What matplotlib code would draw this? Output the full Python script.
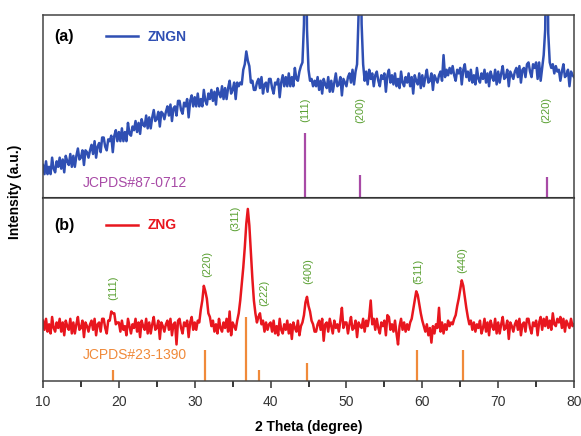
import numpy as np
import matplotlib
matplotlib.use("Agg")
import matplotlib.pyplot as plt
from matplotlib.ticker import MultipleLocator

plt.rcParams['font.family'] = ['Liberation Sans', 'DejaVu Sans']

# 2-theta sampling grid (0.2 degree steps, 10 -> 80)
two_theta = np.round(np.arange(10.0, 80.001, 0.2), 1)

# ZNGN pattern, relative intensity (panel height = 100)
zngn = [
    18, 13, 20, 13, 17, 13, 22, 16, 14, 20,   # 10
    17, 22, 16, 21, 14, 23, 20, 18, 24, 17,   # 12
    23, 17, 23, 27, 21, 22, 26, 18, 26, 25,   # 14
    22, 26, 29, 24, 31, 22, 28, 30, 25, 33,   # 16
    33, 28, 26, 32, 31, 34, 25, 34, 37, 31,   # 18
    36, 31, 38, 31, 36, 31, 41, 35, 34, 39,   # 20
    37, 42, 36, 41, 35, 43, 40, 39, 45, 38,   # 22
    44, 38, 44, 48, 42, 43, 47, 39, 47, 46,   # 24
    43, 47, 50, 45, 51, 42, 49, 50, 45, 53,   # 26
    53, 48, 46, 52, 50, 54, 44, 53, 56, 50,   # 28
    55, 50, 57, 50, 54, 50, 59, 53, 51, 57,   # 30
    54, 59, 53, 58, 51, 60, 57, 55, 61, 54,   # 32
    60, 54, 60, 64, 57, 59, 63, 54, 63, 61,   # 34
    63, 62, 70, 73, 80, 75, 72, 63, 64, 59,   # 36
    59, 63, 65, 60, 66, 57, 62, 63, 58, 65,   # 38
    65, 60, 57, 63, 62, 65, 55, 63, 67, 61,   # 40
    66, 61, 68, 61, 66, 61, 71, 65, 64, 69,   # 42
    72, 74, 95, 170, 92, 70, 64, 65, 61, 64,  # 44
    61, 66, 59, 64, 57, 65, 62, 60, 66, 58,   # 46
    64, 58, 63, 68, 61, 62, 66, 56, 65, 63,   # 48
    61, 66, 68, 63, 70, 62, 69, 73, 100, 170, # 50
    95, 73, 64, 69, 62, 70, 65, 68, 61, 67,   # 52
    69, 64, 61, 67, 65, 68, 58, 67, 70, 63,   # 54
    67, 62, 68, 61, 65, 60, 69, 63, 61, 66,   # 56
    63, 68, 61, 66, 57, 67, 64, 62, 68, 60,   # 58
    67, 61, 66, 70, 63, 64, 68, 59, 67, 65,   # 60
    63, 67, 69, 64, 78, 66, 70, 67, 71, 68,   # 62
    72, 67, 64, 70, 68, 71, 62, 70, 73, 66,   # 64
    69, 64, 70, 63, 67, 62, 71, 65, 63, 68,   # 66
    65, 70, 63, 68, 61, 69, 66, 64, 70, 62,   # 68
    69, 63, 68, 72, 65, 66, 70, 61, 69, 67,   # 70
    65, 69, 71, 66, 72, 63, 70, 71, 66, 73,   # 72
    74, 69, 66, 73, 71, 74, 65, 74, 64, 71,   # 74
    78, 92, 170, 90, 74, 71, 73, 68, 72, 69,  # 76
    70, 64, 69, 73, 66, 67, 70, 61, 69, 67,   # 78
    66,                                       # 80
]

# ZNG pattern
zng = [
    33, 28, 34, 27, 31, 26, 35, 29, 27, 32,   # 10
    29, 34, 27, 32, 25, 33, 30, 28, 34, 26,   # 12
    32, 26, 31, 35, 28, 29, 33, 24, 32, 30,   # 14
    27, 31, 33, 28, 34, 25, 31, 32, 27, 34,   # 16
    34, 29, 26, 33, 33, 38, 37, 37, 31, 32,   # 18
    32, 27, 33, 28, 30, 25, 34, 30, 26, 31,   # 20
    29, 34, 27, 32, 24, 33, 30, 28, 34, 26,   # 22
    32, 26, 31, 35, 28, 29, 33, 23, 32, 30,   # 24
    27, 31, 33, 28, 34, 25, 31, 32, 20, 33,   # 26
    34, 29, 26, 32, 30, 33, 24, 32, 35, 28,   # 28
    32, 28, 33, 32, 39, 44, 52, 49, 45, 37,   # 30
    35, 30, 33, 27, 31, 26, 34, 29, 27, 32,   # 32
    29, 34, 27, 38, 25, 32, 30, 28, 33, 37,   # 34
    44, 53, 62, 73, 86, 94, 85, 70, 56, 44,   # 36
    37, 32, 35, 37, 31, 33, 27, 32, 28, 31,   # 38
    32, 27, 33, 26, 30, 25, 34, 28, 26, 31,   # 40
    28, 33, 26, 31, 23, 32, 29, 27, 33, 25,   # 42
    30, 32, 36, 43, 46, 41, 38, 33, 31, 27,   # 44
    27, 31, 33, 28, 34, 22, 31, 32, 27, 34,   # 46
    30, 26, 33, 29, 31, 27, 33, 40, 29, 32,   # 48
    32, 26, 31, 35, 28, 29, 33, 24, 32, 30,   # 50
    29, 34, 27, 33, 30, 35, 44, 31, 34, 28,   # 52
    34, 29, 26, 32, 30, 33, 25, 36, 35, 28,   # 54
    31, 27, 33, 26, 20, 30, 34, 28, 32, 27,   # 56
    31, 28, 32, 34, 39, 44, 49, 47, 42, 37,   # 58
    33, 30, 27, 31, 25, 29, 21, 30, 26, 31,   # 60
    29, 40, 27, 32, 26, 31, 28, 33, 30, 32,   # 62
    31, 34, 36, 41, 45, 50, 55, 52, 46, 40,   # 64
    35, 31, 33, 28, 32, 27, 31, 29, 33, 26,   # 66
    29, 34, 27, 32, 25, 33, 30, 28, 34, 26,   # 68
    32, 26, 31, 35, 28, 29, 33, 23, 32, 30,   # 70
    27, 31, 33, 28, 34, 25, 31, 32, 27, 34,   # 72
    34, 29, 26, 32, 30, 33, 25, 32, 35, 28,   # 74
    34, 30, 35, 29, 33, 28, 37, 31, 30, 34,   # 76
    32, 35, 29, 34, 27, 33, 31, 29, 34, 30,   # 78
    31,                                       # 80
]

# reference cards (stick positions and relative heights)
ni_pos = [44.6, 51.8, 76.4]
ni_height = [35.5, 12.6, 11.4]
ni_hkl = ['(111)', '(200)', '(220)']
ni_label_y = [48, 48, 48]

spinel_pos = [19.2, 31.3, 36.8, 38.5, 44.8, 59.3, 65.3]
spinel_height = [6, 17, 35, 6, 10, 17, 17]
spinel_hkl = ['(111)', '(220)', '(311)', '(222)', '(400)', '(511)', '(440)']
spinel_label_x = [19.2, 31.6, 35.3, 39.2, 44.9, 59.4, 65.3]
spinel_label_y = [51, 64, 89, 48, 60, 60, 66]

blue = '#2f4fb3'
red = '#e8161e'
purple = '#a84aa6'
orange = '#f08a3a'
green = '#5aa032'

fig = plt.figure(figsize=(5.81, 4.36), dpi=100)
ax_a = fig.add_axes([0.074, 0.546, 0.914, 0.420])
ax_b = fig.add_axes([0.074, 0.126, 0.914, 0.420], sharex=ax_a)

# panel (a)
ax_a.plot(two_theta, zngn, color=blue, lw=1.8, label='ZNGN')
ax_a.vlines(ni_pos, 0, ni_height, color=purple, lw=1.6)
for xp, lab, yl in zip(ni_pos, ni_hkl, ni_label_y):
    ax_a.text(xp, yl, lab, rotation=90, color=green, fontsize=8,
              ha='center', va='center')
ax_a.text(11.5, 88, '(a)', fontsize=11.5, fontweight='bold', va='center')
ax_a.text(15.3, 8, 'JCPDS#87-0712', color=purple, fontsize=10, va='center')
ax_a.legend(loc='center left', bbox_to_anchor=(0.105, 0.88), frameon=False,
            handlelength=2.3, handletextpad=0.7, borderpad=0,
            labelcolor='linecolor', prop={'weight': 'bold', 'size': 10})

# panel (b)
ax_b.plot(two_theta, zng, color=red, lw=1.8, label='ZNG')
ax_b.vlines(spinel_pos, 0, spinel_height, color=orange, lw=1.6)
for xp, lab, yl in zip(spinel_label_x, spinel_hkl, spinel_label_y):
    ax_b.text(xp, yl, lab, rotation=90, color=green, fontsize=8,
              ha='center', va='center')
ax_b.text(11.5, 85, '(b)', fontsize=11.5, fontweight='bold', va='center')
ax_b.text(15.3, 14, 'JCPDS#23-1390', color=orange, fontsize=10, va='center')
ax_b.legend(loc='center left', bbox_to_anchor=(0.105, 0.85), frameon=False,
            handlelength=2.3, handletextpad=0.7, borderpad=0,
            labelcolor='linecolor', prop={'weight': 'bold', 'size': 10})

for ax in (ax_a, ax_b):
    ax.set_ylim(0, 100)
    ax.set_yticks([])
    for s in ax.spines.values():
        s.set_color('#444444')
        s.set_linewidth(1.1)

ax_a.set_xlim(10, 80)
ax_a.tick_params(axis='x', which='both', bottom=False, labelbottom=False)
ax_a.spines['bottom'].set_color('black')
ax_a.spines['bottom'].set_linewidth(1.5)

ax_b.xaxis.set_major_locator(MultipleLocator(10))
ax_b.xaxis.set_minor_locator(MultipleLocator(5))
ax_b.tick_params(axis='x', which='major', direction='out', length=5,
                 width=1.1, labelsize=10, colors='#333333', pad=5)
ax_b.tick_params(axis='x', which='minor', direction='out', length=4, width=1.1)
ax_b.set_xlabel('2 Theta (degree)', fontsize=10, fontweight='bold', labelpad=8)

fig.text(0.026, 0.56, 'Intensity (a.u.)', rotation=90, fontsize=10,
         fontweight='bold', ha='center', va='center')

fig.savefig('out.png', dpi=100)
